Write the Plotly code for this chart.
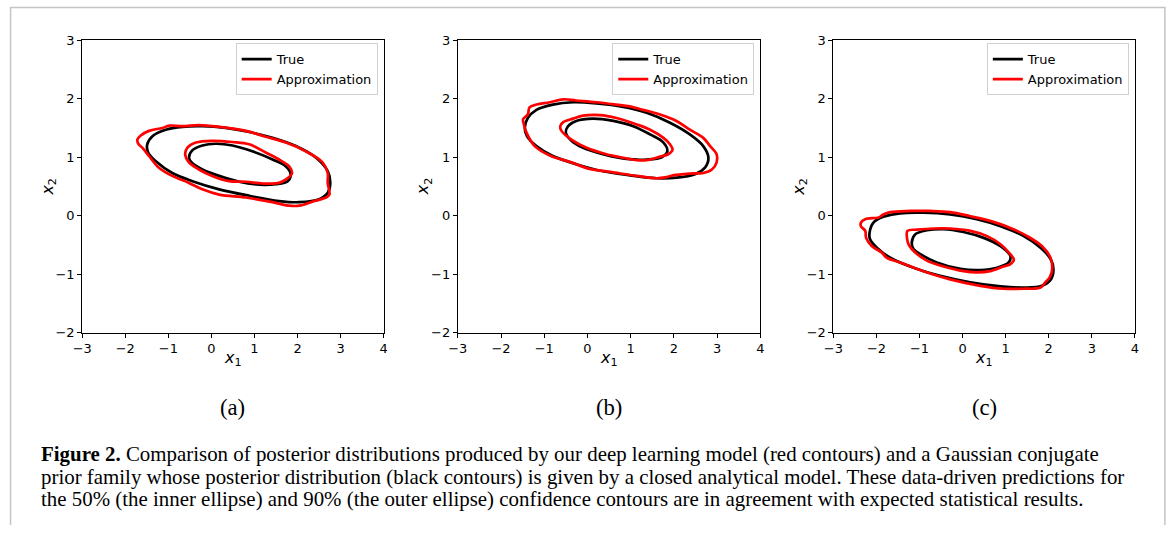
import plotly.graph_objects as go

# Figure size; the viewer shows the page (8px body margin) scaled into the window,
# so target screen pixels are converted to figure pixels below.
W, H = 1167, 533
OFF = 8
SX, SY = W / (W + 2 * OFF), H / (H + 2 * OFF)

# ---------------- data ----------------
x_ticks = [-3, -2, -1, 0, 1, 2, 3, 4]
y_ticks = [-2, -1, 0, 1, 2, 3]
panel_labels = ["(a)", "(b)", "(c)"]
series_names = ["True", "Approximation"]

# Panel (a)
a_true_outer_x = [-1.49, -1.37, -1.06, -0.67, -0.21, 0.33, 0.88, 1.42, 1.96, 2.43, 2.70, 2.76, 2.70, 2.50, 2.04, 1.57, 0.88, 0.18, -0.44, -0.91, -1.29, -1.47]
a_true_outer_y = [1.22, 1.36, 1.47, 1.52, 1.53, 1.50, 1.43, 1.33, 1.19, 0.99, 0.76, 0.56, 0.39, 0.28, 0.23, 0.25, 0.34, 0.45, 0.59, 0.73, 0.93, 1.08]
a_true_inner_x = [-0.52, -0.44, -0.21, 0.10, 0.49, 0.95, 1.42, 1.73, 1.84, 1.77, 1.50, 1.11, 0.64, 0.18, -0.21, -0.46]
a_true_inner_y = [0.99, 1.12, 1.20, 1.23, 1.20, 1.10, 0.96, 0.84, 0.71, 0.59, 0.54, 0.53, 0.58, 0.68, 0.79, 0.91]
a_appr_outer_x = [-1.72, -1.64, -1.45, -1.14, -0.98, -0.67, -0.29, 0.18, 0.80, 1.26, 1.73, 2.19, 2.58, 2.70, 2.70, 2.74, 2.66, 2.39, 2.04, 1.81, 1.42, 0.80, 0.18, -0.21, -0.52, -0.91, -1.22, -1.45, -1.60, -1.69]
a_appr_outer_y = [1.30, 1.37, 1.45, 1.50, 1.54, 1.53, 1.55, 1.52, 1.45, 1.35, 1.25, 1.10, 0.91, 0.73, 0.56, 0.36, 0.31, 0.25, 0.17, 0.17, 0.23, 0.31, 0.36, 0.45, 0.56, 0.68, 0.82, 1.02, 1.16, 1.22]
a_appr_inner_x = [-0.61, -0.56, -0.36, 0.02, 0.49, 0.88, 1.26, 1.57, 1.81, 1.87, 1.73, 1.57, 1.19, 0.80, 0.41, 0.02, -0.29, -0.52]
a_appr_inner_y = [1.05, 1.16, 1.25, 1.28, 1.26, 1.22, 1.08, 0.96, 0.84, 0.72, 0.62, 0.56, 0.55, 0.58, 0.59, 0.68, 0.79, 0.91]

# Panel (b)
b_true_outer_x = [-1.45, -1.38, -1.18, -0.80, -0.33, 0.21, 0.83, 1.37, 1.91, 2.37, 2.68, 2.80, 2.72, 2.49, 2.07, 1.60, 0.98, 0.36, -0.26, -0.80, -1.18, -1.40]
b_true_outer_y = [1.50, 1.67, 1.81, 1.90, 1.94, 1.92, 1.86, 1.76, 1.59, 1.39, 1.19, 0.99, 0.82, 0.71, 0.65, 0.64, 0.69, 0.76, 0.88, 1.02, 1.19, 1.36]
b_true_inner_x = [-0.50, -0.45, -0.26, 0.13, 0.60, 1.06, 1.45, 1.76, 1.85, 1.72, 1.37, 0.90, 0.36, -0.10, -0.37]
b_true_inner_y = [1.42, 1.53, 1.62, 1.66, 1.62, 1.53, 1.39, 1.25, 1.10, 1.00, 0.96, 0.97, 1.05, 1.16, 1.28]
b_appr_outer_x = [-1.49, -1.38, -1.34, -1.18, -0.87, -0.56, -0.26, 0.21, 0.67, 0.98, 1.29, 1.68, 2.06, 2.37, 2.68, 2.84, 2.99, 2.99, 2.88, 2.68, 2.37, 1.98, 1.83, 1.60, 1.14, 0.52, 0.05, -0.41, -0.87, -1.22, -1.41, -1.47]
b_appr_outer_y = [1.65, 1.73, 1.85, 1.90, 1.94, 1.99, 1.97, 1.94, 1.90, 1.87, 1.81, 1.73, 1.62, 1.47, 1.33, 1.19, 1.05, 0.91, 0.79, 0.73, 0.72, 0.69, 0.66, 0.64, 0.68, 0.75, 0.80, 0.92, 1.03, 1.19, 1.42, 1.56]
b_appr_inner_x = [-0.63, -0.56, -0.33, -0.10, 0.29, 0.67, 1.14, 1.45, 1.76, 1.91, 1.97, 1.87, 1.68, 1.37, 1.14, 0.83, 0.44, -0.02, -0.37, -0.60]
b_appr_inner_y = [1.53, 1.60, 1.66, 1.71, 1.72, 1.67, 1.56, 1.47, 1.33, 1.22, 1.13, 1.05, 1.01, 0.95, 0.95, 0.99, 1.05, 1.16, 1.30, 1.45]

# Panel (c)
c_true_outer_x = [-2.16, -2.07, -1.84, -1.45, -0.91, -0.29, 0.33, 0.88, 1.42, 1.81, 2.05, 2.11, 2.05, 1.84, 1.42, 0.88, 0.18, -0.52, -1.14, -1.68, -1.99, -2.15]
c_true_outer_y = [-0.29, -0.12, -0.02, 0.04, 0.05, 0.02, -0.06, -0.18, -0.35, -0.55, -0.75, -0.92, -1.09, -1.20, -1.23, -1.21, -1.14, -1.03, -0.89, -0.72, -0.55, -0.40]
c_true_inner_x = [-1.18, -1.10, -0.83, -0.44, 0.02, 0.49, 0.88, 1.11, 1.07, 0.80, 0.41, -0.05, -0.60, -0.98, -1.14]
c_true_inner_y = [-0.46, -0.32, -0.25, -0.23, -0.28, -0.38, -0.52, -0.69, -0.80, -0.89, -0.93, -0.91, -0.80, -0.66, -0.57]
c_appr_outer_x = [-2.36, -2.26, -1.95, -1.84, -1.68, -1.22, -0.75, -0.29, 0.18, 0.64, 1.11, 1.50, 1.84, 2.04, 2.08, 2.02, 1.92, 1.81, 1.42, 0.95, 0.41, -0.29, -0.91, -1.45, -1.76, -1.88, -2.11, -2.24, -2.26, -2.36]
c_appr_outer_y = [-0.12, -0.06, -0.03, 0.02, 0.06, 0.08, 0.08, 0.06, -0.01, -0.09, -0.21, -0.35, -0.52, -0.72, -0.92, -1.06, -1.14, -1.23, -1.25, -1.25, -1.20, -1.09, -0.95, -0.80, -0.72, -0.63, -0.52, -0.38, -0.26, -0.18]
c_appr_inner_x = [-1.28, -1.28, -1.06, -0.67, -0.29, 0.18, 0.57, 0.88, 1.07, 1.19, 1.11, 0.95, 0.64, 0.33, 0.02, -0.44, -0.83, -1.10, -1.24]
c_appr_inner_y = [-0.43, -0.26, -0.24, -0.22, -0.22, -0.26, -0.35, -0.49, -0.63, -0.75, -0.83, -0.87, -0.95, -0.97, -0.95, -0.87, -0.77, -0.63, -0.51]

caption_lines = [
    "<b>Figure 2.</b> Comparison of posterior distributions produced by our deep learning model (red contours) and a Gaussian conjugate",
    "prior family whose posterior distribution (black contours) is given by a closed analytical model. These data-driven predictions for",
    "the 50% (the inner ellipse) and 90% (the outer ellipse) confidence contours are in agreement with expected statistical results.",
]

# ---------------- figure ----------------
panels = [
    [(a_true_outer_x, a_true_outer_y), (a_true_inner_x, a_true_inner_y),
     (a_appr_outer_x, a_appr_outer_y), (a_appr_inner_x, a_appr_inner_y)],
    [(b_true_outer_x, b_true_outer_y), (b_true_inner_x, b_true_inner_y),
     (b_appr_outer_x, b_appr_outer_y), (b_appr_inner_x, b_appr_inner_y)],
    [(c_true_outer_x, c_true_outer_y), (c_true_inner_x, c_true_inner_y),
     (c_appr_outer_x, c_appr_outer_y), (c_appr_inner_x, c_appr_inner_y)],
]


def px(xs):
    """screen pixel x -> paper x"""
    return (xs / SX - OFF) / W


def py(ys):
    """screen pixel y (from top) -> paper y"""
    return 1 - (ys / SY - OFF) / H


# screen-pixel boxes of the three plot areas
px_left = [80, 455, 830]
px_right = [381, 757, 1131]
px_top, px_bottom = 41, 333

fig = go.Figure()
k = 1 / SY  # font compensation for the viewer's scaling
tick_font = dict(family="DejaVu Sans", size=12.6 * k, color="black")
title_font = dict(family="DejaVu Sans", size=15.5 * k, color="black")

for i, curves in enumerate(panels):
    sfx = "" if i == 0 else str(i + 1)
    legend_name = "legend" + sfx
    for j, (xs, ys) in enumerate(curves):
        is_true = j < 2
        fig.add_trace(go.Scatter(
            x=list(xs) + [xs[0]], y=list(ys) + [ys[0]],
            mode="lines",
            line=dict(color="black" if is_true else "#ff0000", width=2.7, shape="spline", smoothing=1.0),
            name=series_names[0] if is_true else series_names[1],
            showlegend=(j in (0, 2)),
            legend=legend_name,
            xaxis="x" + sfx, yaxis="y" + sfx,
            hoverinfo="skip",
        ))
    ax = dict(
        domain=[px(px_left[i]), px(px_right[i])],
        range=[-3, 4], tickvals=x_ticks, showgrid=False, zeroline=False,
        showline=True, linecolor="black", linewidth=1, mirror=True,
        ticks="outside", ticklen=4, tickcolor="black", tickfont=tick_font,
        anchor="y" + sfx,
    )
    ay = dict(
        domain=[py(px_bottom), py(px_top)],
        range=[-2, 3], tickvals=y_ticks, showgrid=False, zeroline=False,
        showline=True, linecolor="black", linewidth=1, mirror=True,
        ticks="outside", ticklen=4, tickcolor="black", tickfont=tick_font,
        anchor="x" + sfx,
    )
    fig.layout["xaxis" + sfx] = ax
    fig.layout["yaxis" + sfx] = ay
    fig.layout[legend_name] = dict(
        x=px(px_right[i] - 6), xanchor="right",
        y=py(44), yanchor="top",
        bgcolor="rgba(255,255,255,0.8)", bordercolor="#d0d0d0", borderwidth=1,
        font=dict(family="DejaVu Sans", size=12.6 * k, color="black"),
        itemwidth=30, tracegroupgap=0,
    )
    # axis titles
    fig.add_annotation(
        x=px((px_left[i] + px_right[i]) / 2), y=py(359), xref="paper", yref="paper",
        text="<i>x</i><sub>1</sub>", showarrow=False, xanchor="center", yanchor="middle",
        font=title_font,
    )
    fig.add_annotation(
        x=px(px_left[i] - 34), y=py((px_top + px_bottom) / 2), xref="paper", yref="paper",
        text="<i>x</i><sub>2</sub>", showarrow=False, xanchor="center", yanchor="middle",
        textangle=-90, font=title_font,
    )
    fig.add_annotation(
        x=px((px_left[i] + px_right[i]) / 2), y=py(408), xref="paper", yref="paper",
        text=panel_labels[i], showarrow=False, xanchor="center", yanchor="middle",
        font=dict(family="Liberation Serif", size=22 * k, color="black"),
    )

caption_y = [454, 477, 499]
for line, yy in zip(caption_lines, caption_y):
    fig.add_annotation(
        x=px(37), y=py(yy), xref="paper", yref="paper",
        text=line, showarrow=False, xanchor="left", yanchor="middle",
        font=dict(family="Liberation Serif", size=20.3 * k, color="black"),
    )

# outer page frame
fx0, fx1, fy0 = max(px(7), 0.0005), px(1161), min(py(4), 0.999)
fig.add_shape(type="path",
              path=f"M {fx0} 0 L {fx0} {fy0} L {fx1} {fy0} L {fx1} 0",
              xref="paper", yref="paper", line=dict(color="#c4c4c4", width=1.5))

fig.update_layout(
    width=W, height=H, margin=dict(l=0, r=0, t=0, b=0),
    paper_bgcolor="white", plot_bgcolor="white",
)

fig.write_html("out.html")
